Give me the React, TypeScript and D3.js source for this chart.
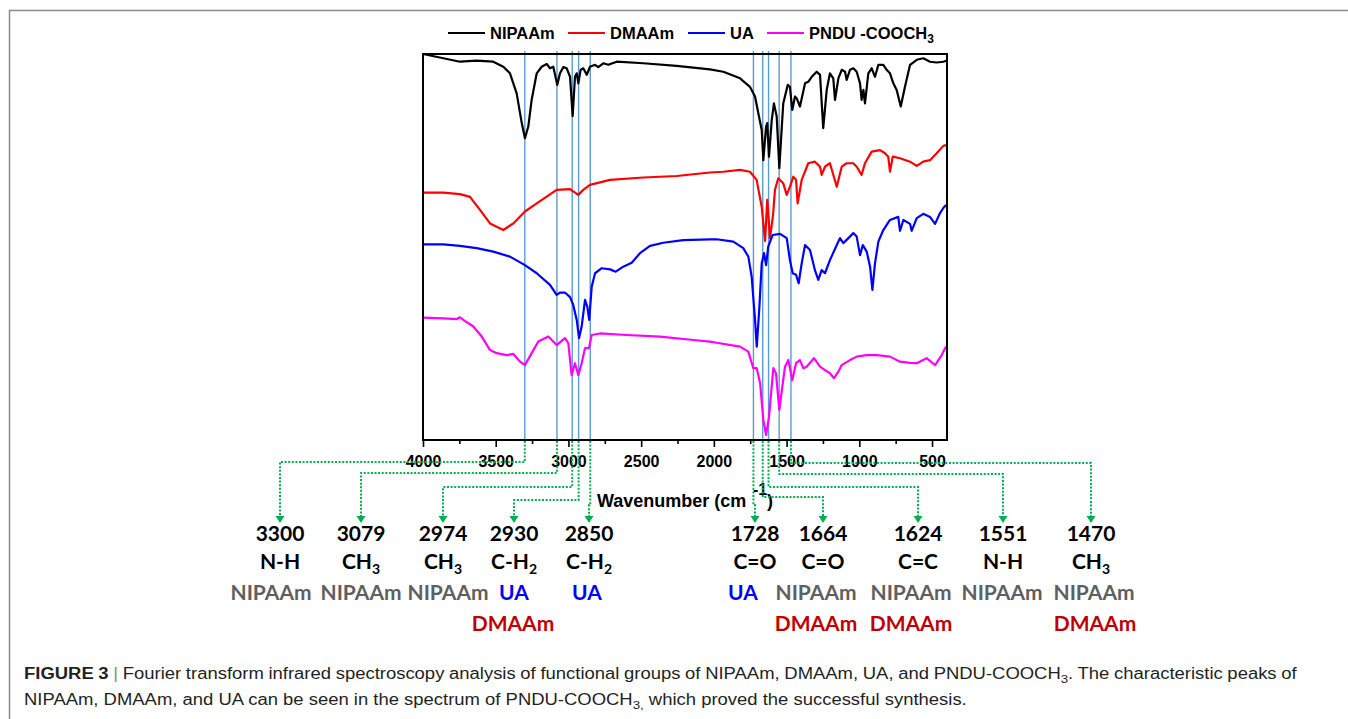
import React, { useEffect, useRef } from 'react';
import * as d3 from 'd3';

// [wavenumber (cm-1), transmittance (a.u., offset per spectrum)]
const nipaam: [number, number][] = [
  [4000, 100], [3860, 98.9], [3746, 98.0], [3631, 98.3], [3517, 98.0], [3448, 96.7], [3402, 95.0],
  [3356, 89.8], [3321, 82.1], [3299, 78.2], [3276, 81.2], [3253, 88.1], [3218, 95.0], [3184, 96.7],
  [3149, 97.4], [3127, 96.3], [3104, 96.7], [3077, 92.0], [3058, 95.0], [3035, 96.6], [3012, 96.3],
  [2989, 94.1], [2971, 83.9], [2955, 94.1], [2943, 95.0], [2932, 92.4], [2916, 95.9], [2898, 96.3],
  [2874, 94.6], [2852, 96.7], [2817, 97.2], [2795, 96.6], [2760, 97.6], [2726, 97.2], [2668, 98.0],
  [2485, 97.6], [2256, 96.9], [2027, 96.0], [1935, 95.4], [1820, 93.7], [1752, 91.5], [1717, 89.0],
  [1694, 84.6], [1671, 80.3], [1660, 72.5], [1641, 81.2], [1633, 82.1], [1621, 73.4], [1602, 82.9],
  [1587, 87.2], [1568, 83.8], [1550, 70.4], [1523, 87.2], [1492, 92.0], [1477, 91.5], [1461, 85.5],
  [1442, 89.0], [1430, 88.5], [1408, 86.4], [1373, 92.4], [1351, 92.8], [1327, 94.1], [1293, 95.4],
  [1270, 94.6], [1248, 80.8], [1224, 90.7], [1202, 95.0], [1179, 93.7], [1167, 88.1], [1144, 93.7],
  [1121, 95.9], [1098, 95.4], [1087, 93.3], [1064, 95.9], [1041, 96.3], [1018, 95.4], [995, 92.4],
  [984, 88.1], [972, 90.7], [961, 87.2], [938, 95.0], [915, 96.3], [892, 94.1], [869, 97.2],
  [835, 97.2], [812, 95.9], [789, 95.0], [766, 92.4], [743, 90.7], [715, 86.4], [686, 91.5],
  [651, 97.2], [605, 98.5], [560, 98.9], [514, 98.0], [468, 97.8], [422, 98.0], [399, 98.3],
];

const dmaam: [number, number][] = [
  [4000, 64.1], [3860, 64.1], [3746, 63.7], [3677, 63.0], [3608, 59.6], [3539, 56.1], [3448, 54.4],
  [3379, 56.1], [3299, 59.2], [3218, 61.3], [3081, 64.8], [2989, 65.0], [2932, 63.5], [2898, 64.8],
  [2852, 66.1], [2714, 67.4], [2485, 68.0], [2256, 68.4], [2027, 69.3], [1935, 69.5], [1820, 70.0],
  [1752, 69.5], [1706, 67.4], [1671, 60.4], [1648, 51.6], [1633, 62.2], [1614, 52.3], [1593, 58.3],
  [1580, 64.8], [1557, 67.8], [1523, 66.5], [1499, 63.5], [1477, 65.6], [1454, 68.2], [1435, 67.4],
  [1424, 61.3], [1396, 67.4], [1351, 71.7], [1305, 72.1], [1270, 70.8], [1259, 68.7], [1236, 70.8],
  [1202, 71.7], [1155, 65.6], [1121, 70.8], [1087, 71.7], [1041, 71.7], [1018, 70.8], [984, 68.7],
  [961, 71.7], [915, 74.7], [858, 75.1], [823, 74.3], [801, 73.4], [789, 69.5], [770, 73.4],
  [720, 73.0], [651, 72.1], [605, 71.0], [560, 72.1], [514, 72.5], [468, 74.3], [422, 76.2], [404, 76.4],
];

const ua: [number, number][] = [
  [4000, 50.7], [3860, 50.7], [3746, 50.3], [3631, 49.7], [3517, 48.8], [3402, 47.5], [3299, 45.3],
  [3218, 43.2], [3127, 40.2], [3081, 37.6], [3058, 38.2], [3024, 38.2], [2989, 37.0], [2967, 35.0],
  [2943, 31.1], [2927, 26.4], [2909, 29.4], [2886, 36.3], [2870, 34.5], [2857, 31.1], [2840, 39.7],
  [2817, 43.2], [2771, 44.5], [2714, 44.2], [2675, 43.6], [2623, 44.9], [2565, 45.9], [2508, 48.4],
  [2439, 50.3], [2348, 51.1], [2210, 51.8], [2027, 52.0], [1981, 52.0], [1866, 51.4], [1798, 49.7],
  [1763, 47.5], [1740, 42.3], [1717, 31.1], [1705, 24.2], [1687, 34.5], [1671, 45.8], [1655, 48.4],
  [1641, 45.3], [1626, 50.1], [1596, 53.1], [1545, 53.4], [1499, 52.3], [1477, 46.6], [1458, 43.2],
  [1435, 42.8], [1417, 40.6], [1396, 45.8], [1373, 50.5], [1339, 49.2], [1305, 44.0], [1282, 41.5],
  [1259, 44.0], [1236, 43.2], [1202, 46.6], [1155, 50.5], [1133, 52.3], [1110, 51.0], [1075, 52.3],
  [1041, 53.6], [1018, 52.7], [995, 47.9], [976, 50.5], [949, 48.8], [926, 44.9], [910, 38.9],
  [892, 45.8], [869, 51.4], [835, 54.4], [789, 57.0], [732, 57.8], [720, 54.2], [697, 57.0],
  [651, 56.0], [640, 54.2], [605, 57.5], [560, 58.6], [514, 57.8], [479, 56.0], [445, 58.8],
  [422, 60.1], [404, 60.9],
];

const pndu: [number, number][] = [
  [4000, 31.7], [3860, 31.5], [3768, 31.3], [3746, 31.8], [3723, 31.1], [3654, 29.4], [3596, 26.8],
  [3539, 23.3], [3493, 22.5], [3424, 22.0], [3379, 22.3], [3333, 20.3], [3299, 19.4], [3253, 22.5],
  [3207, 25.5], [3138, 26.8], [3081, 24.6], [3024, 26.4], [3001, 25.1], [2978, 16.8], [2955, 19.9],
  [2932, 16.8], [2909, 19.9], [2886, 23.8], [2859, 23.8], [2840, 27.2], [2783, 27.6], [2599, 27.2],
  [2370, 26.8], [2141, 25.9], [2027, 25.5], [1981, 25.2], [1820, 24.2], [1763, 22.9], [1729, 18.6],
  [1705, 18.6], [1682, 14.7], [1660, 5.2], [1641, 1.3], [1621, 6.0], [1591, 18.6], [1573, 17.3],
  [1550, 7.8], [1511, 19.0], [1488, 20.7], [1461, 15.5], [1435, 19.9], [1408, 20.7], [1385, 18.6],
  [1362, 19.0], [1312, 21.2], [1270, 19.0], [1236, 18.1], [1202, 17.3], [1174, 16.0], [1144, 17.7],
  [1121, 19.4], [1064, 20.7], [1018, 21.6], [949, 22.0], [880, 22.0], [789, 21.6], [720, 20.3],
  [651, 20.0], [605, 19.9], [537, 21.2], [479, 19.4], [433, 22.0], [404, 24.2],
];

const seriesNames = ['NIPAAm', 'DMAAm', 'UA', 'PNDU -COOCH_3'];
const seriesData = [nipaam, dmaam, ua, pndu];
const seriesColors = ['#000000', '#ff0000', '#0000ff', '#ff00ff'];

const xTicks = [4000, 3500, 3000, 2500, 2000, 1500, 1000, 500];
const xMinorTicks = [3750, 3250, 2750, 2250, 1750, 1250, 750];

// characteristic peaks
const peaks = [3300, 3079, 2974, 2930, 2850, 1728, 1664, 1624, 1551, 1470];
const groups = ['N-H', 'CH_3', 'CH_3', 'C-H_2', 'C-H_2', 'C=O', 'C=O', 'C=C', 'N-H', 'CH_3'];
const sources = [
  ['NIPAAm'], ['NIPAAm'], ['NIPAAm'], ['UA', 'DMAAm'], ['UA'],
  ['UA'], ['NIPAAm', 'DMAAm'], ['NIPAAm', 'DMAAm'], ['NIPAAm'], ['NIPAAm', 'DMAAm'],
];
const sourceColors: Record<string, string> = { NIPAAm: '#5f5f5f', UA: '#0000ff', DMAAm: '#c00000' };

// layout of the annotation block under the axis
const labelX = [280, 361, 443, 514, 589, 755, 823, 918, 1003, 1091];
const sourceX = [[271], [361], [448], [514, 513], [587], [743], [816, 816], [911, 911], [1002], [1094, 1095]];
const elbowY = [462, 473, 487, 500, null, null, 497, 487, 474, 463];
const legendX = [448, 568, 688, 767];

const caption1a = 'Fourier transform infrared spectroscopy analysis of functional groups of NIPAAm, DMAAm, UA, and PNDU-COOCH';
const caption1b = '. The characteristic peaks of';
const caption2a = 'NIPAAm, DMAAm, and UA can be seen in the spectrum of PNDU-COOCH';
const caption2b = ' which proved the successful synthesis.';

const W = 1348;
const H = 719;

// writes "CH_3" as CH with a subscript 3
const subText = (sel: any, s: string, subSize: number, shift: number) => {
  const [main, sub] = s.split('_');
  sel.append('tspan').text(main);
  if (sub) {
    sel.append('tspan').attr('font-size', subSize).attr('dy', shift).text(sub);
  }
};

const FTIRChart = () => {
  const svgRef = useRef<SVGSVGElement>(null);

  useEffect(() => {
    const svg = d3.select(svgRef.current);
    svg.selectAll('*').remove();

    const margin = { top: 54, right: W - 947, bottom: H - 440, left: 423 };
    const plotBottom = H - margin.bottom;

    const x = d3.scaleLinear().domain([4000, 397]).range([margin.left, W - margin.right]);
    const y = d3.scaleLinear().domain([0, 100]).range([plotBottom, margin.top]);

    // outer figure frame
    svg.append('rect')
      .attr('x', 9.5).attr('y', 10.5).attr('width', 1400).attr('height', 800)
      .attr('fill', 'none').attr('stroke', '#8a8a8a').attr('stroke-width', 1.5);

    // legend
    const legend = svg.append('g').attr('font-family', '"Liberation Sans", Arial, sans-serif')
      .attr('font-weight', 'bold').attr('font-size', 16.5);
    seriesNames.forEach((name, i) => {
      const lx = legendX[i];
      legend.append('line').attr('x1', lx).attr('x2', lx + 37).attr('y1', 33).attr('y2', 33)
        .attr('stroke', seriesColors[i]).attr('stroke-width', 2);
      const t = legend.append('text').attr('x', lx + 42).attr('y', 39).attr('fill', '#000');
      subText(t, name, 12, 4);
    });

    // peak marker lines
    svg.append('g').selectAll('line').data(peaks).join('line')
      .attr('x1', d => x(d)).attr('x2', d => x(d))
      .attr('y1', margin.top - 3).attr('y2', plotBottom)
      .attr('stroke', '#5b9bd5').attr('stroke-width', 1.4);

    // spectra
    const line = d3.line<[number, number]>().x(d => x(d[0])).y(d => y(d[1]));
    svg.append('g').selectAll('path').data(seriesData).join('path')
      .attr('d', d => line(d))
      .attr('fill', 'none')
      .attr('stroke', (_, i) => seriesColors[i])
      .attr('stroke-width', 2.2)
      .attr('stroke-linejoin', 'round');

    // plot box
    svg.append('rect')
      .attr('x', margin.left).attr('y', margin.top)
      .attr('width', W - margin.right - margin.left).attr('height', plotBottom - margin.top)
      .attr('fill', 'none').attr('stroke', '#000').attr('stroke-width', 2);

    // x axis
    const axis = svg.append('g').attr('transform', `translate(0,${plotBottom})`)
      .call(d3.axisBottom(x).tickValues(xTicks).tickSize(7).tickPadding(9).tickFormat(d3.format('d')))
      .call(g => g.select('.domain').remove());
    axis.selectAll('line').attr('stroke', '#000').attr('stroke-width', 1.6);
    axis.selectAll('text')
      .attr('font-family', '"Liberation Sans", Arial, sans-serif')
      .attr('font-weight', 'bold').attr('font-size', 16).attr('fill', '#000');

    svg.append('g').attr('transform', `translate(0,${plotBottom})`)
      .call(d3.axisBottom(x).tickValues(xMinorTicks).tickSize(4).tickFormat(() => ''))
      .call(g => g.select('.domain').remove())
      .selectAll('line').attr('stroke', '#000').attr('stroke-width', 1.6);

    // axis title
    const title = svg.append('g').attr('font-family', '"Liberation Sans", Arial, sans-serif')
      .attr('font-weight', 'bold').attr('fill', '#000');
    title.append('text').attr('x', 597).attr('y', 507).attr('font-size', 18).text('Wavenumber (cm');
    title.append('text').attr('x', 753).attr('y', 495).attr('font-size', 16).text('-1');
    title.append('text').attr('x', 767).attr('y', 507).attr('font-size', 18).text(')');

    // dotted connectors with arrows
    const green = '#00b050';
    const arrowTop = 516;
    const conn = svg.append('g');
    peaks.forEach((p, i) => {
      const px = x(p);
      const lx = labelX[i];
      const ey = elbowY[i] ?? 505;
      conn.append('path')
        .attr('d', `M${px},${plotBottom + 1}V${ey}H${lx}V${arrowTop}`)
        .attr('fill', 'none').attr('stroke', green).attr('stroke-width', 2)
        .attr('stroke-dasharray', '2,1.6');
      conn.append('path')
        .attr('d', `M${lx - 4.5},${arrowTop}L${lx + 4.5},${arrowTop}L${lx},${arrowTop + 7}Z`)
        .attr('fill', green);
    });

    // peak annotations
    const ann = svg.append('g').attr('font-family', 'Lato, "Open Sans", sans-serif')
      .attr('font-weight', 'bold').attr('text-anchor', 'middle').attr('font-size', 21);
    peaks.forEach((p, i) => {
      const lx = labelX[i];
      ann.append('text').attr('x', lx).attr('y', 540.5).attr('fill', '#000').text(String(p));
      const g = ann.append('text').attr('x', lx).attr('y', 569).attr('fill', '#000');
      subText(g, groups[i], 14, 5);
      sources[i].forEach((s, j) => {
        ann.append('text').attr('x', sourceX[i][j]).attr('y', 600 + j * 31)
          .attr('fill', sourceColors[s]).text(s);
      });
    });

    // caption: second line sets the glyph width, first line is justified
    const cap = svg.append('g').attr('font-family', '"Liberation Sans", Arial, sans-serif')
      .attr('font-size', 16).attr('fill', '#231f20');

    const l2 = cap.append('text').attr('x', 0).attr('y', 0);
    l2.append('tspan').text(caption2a);
    l2.append('tspan').attr('font-size', 11.5).attr('dy', 4).text('3,');
    l2.append('tspan').attr('dy', -4).text(caption2b);
    const nat2 = (l2.node() as SVGTextElement).getComputedTextLength();
    const sx = nat2 > 0 ? 943 / nat2 : 1;
    l2.attr('transform', `translate(24,704.5) scale(${sx},1)`);

    const l1 = cap.append('text').attr('x', 0).attr('y', 0);
    l1.append('tspan').attr('font-weight', 'bold').text('FIGURE 3');
    l1.append('tspan').attr('fill', '#8a8a8a').text(' | ');
    l1.append('tspan').text(caption1a);
    l1.append('tspan').attr('font-size', 11.5).attr('dy', 4).text('3');
    l1.append('tspan').attr('dy', -4).text(caption1b);
    const nat1 = (l1.node() as SVGTextElement).getComputedTextLength();
    const spaces = ('FIGURE 3 | ' + caption1a + caption1b).split(' ').length - 1;
    const ws = (1273 / sx - nat1) / spaces;
    l1.attr('word-spacing', ws).attr('transform', `translate(24,678.5) scale(${sx},1)`);
  }, []);

  return (
    <svg
      ref={svgRef}
      width={W}
      height={H}
      style={{ position: 'absolute', left: 0, top: 0, display: 'block', background: '#fff' }}
    />
  );
};

export default function App() {
  return <FTIRChart />;
}
